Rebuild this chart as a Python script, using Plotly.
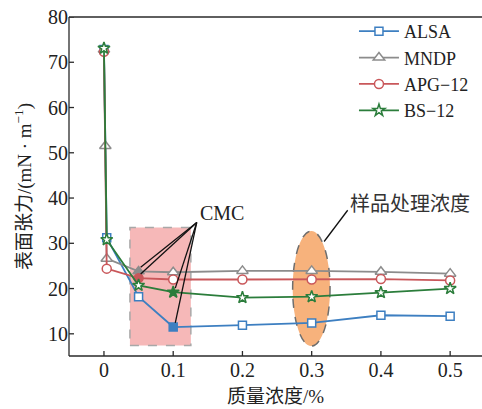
import plotly.graph_objects as go

# ---- data ----
x_main = [0, 0.004, 0.05, 0.1, 0.2, 0.3, 0.4, 0.5]
x_mndp = [0, 0.002, 0.004, 0.05, 0.1, 0.2, 0.3, 0.4, 0.5]
alsa = [72.8, 31.2, 18.2, 11.5, 11.9, 12.4, 14.1, 13.9]
mndp = [72.8, 51.5, 26.6, 23.8, 23.6, 23.9, 23.9, 23.7, 23.3]
apg12 = [72.3, 24.4, 22.3, 22.0, 22.0, 22.0, 22.1, 21.8]
bs12 = [73.1, 30.8, 20.7, 19.2, 18.0, 18.2, 19.1, 20.0]

names = ["ALSA", "MNDP", "APG\u221212", "BS\u221212"]
cmc_x = [0.1, 0.05, 0.05, 0.1]          # CMC point of each series
x_ticks = [0, 0.1, 0.2, 0.3, 0.4, 0.5]
x_tick_labels = ["0", "0.1", "0.2", "0.3", "0.4", "0.5"]
y_ticks = [10, 20, 30, 40, 50, 60, 70, 80]

cmc_region = (0.0375, 0.1255, 7.4, 33.5)      # highlighted CMC box
sample_conc = 0.3                              # sample treatment concentration
sample_region = (7.3, 32.7)

colors = ["#3d7fc1", "#8c8c8c", "#c9575a", "#2b7d3b"]
symbols = ["square", "triangle-up", "circle", "star"]
sizes = [8, 10, 9, 9]

series = [(x_main, alsa), (x_mndp, mndp), (x_main, apg12), (x_main, bs12)]

SERIF = "Liberation Serif, Times New Roman, Noto Sans CJK SC, serif"
MIXED = "Liberation Serif, Noto Sans CJK SC, serif"
AXC = "#2a2a2a"

W, H = 482, 409
ML, MR, MT, MB = 69, 0, 17, 53
TICKLEN = 5

fig = go.Figure()
for (xs, ys), name, c, sym, sz, cx in zip(series, names, colors, symbols, sizes, cmc_x):
    fills = [c if abs(x - cx) < 1e-9 else "white" for x in xs]
    fig.add_trace(go.Scatter(
        x=xs, y=ys, name=name, mode="lines+markers",
        line=dict(color=c, width=1.8),
        marker=dict(symbol=sym, size=sz, color=fills, line=dict(color=c, width=1.5)),
    ))

# CMC shaded box
x0, x1, y0, y1 = cmc_region
fig.add_shape(type="rect", xref="x", yref="y", x0=x0, x1=x1, y0=y0, y1=y1,
              fillcolor="#f6b8b8", line=dict(color="#a8a8a8", width=1.5, dash="dash"),
              layer="below")
# sample concentration ellipse
fig.add_shape(type="circle", xref="x", yref="y",
              x0=sample_conc - 0.0275, x1=sample_conc + 0.0265,
              y0=sample_region[0], y1=sample_region[1],
              fillcolor="#f7b27c", line=dict(color="#6e6e6e", width=1.5, dash="dash"),
              layer="below")

# CMC pointer lines
anchor = (0.134, 34.6)
for (xs, ys), cx in zip(series, cmc_x):
    i = [k for k, x in enumerate(xs) if abs(x - cx) < 1e-9][0]
    ty = ys[i] + 0.9
    fig.add_shape(type="line", xref="x", yref="y", x0=anchor[0], y0=anchor[1],
                  x1=xs[i] + 0.003, y1=ty, line=dict(color="#111111", width=1.3))
fig.add_annotation(x=0.17, y=36.8, xref="x", yref="y", text="CMC", showarrow=False,
                   font=dict(family=SERIF, size=20, color="#222222"))

# sample concentration pointer
fig.add_shape(type="line", xref="x", yref="y", x0=0.352, y0=37.3, x1=0.318, y1=30.4,
              line=dict(color="#111111", width=1.3))
fig.add_annotation(x=0.442, y=39.1, xref="x", yref="y", text="样品处理浓度", showarrow=False,
                   font=dict(family="Noto Sans CJK SC", size=20, color="#333333"))

# axis frame (left, bottom, top) and inside ticks, drawn as shapes
frame = dict(color=AXC, width=1.3)
fig.add_shape(type="line", xref="paper", yref="paper", x0=0, x1=0, y0=0, y1=1, line=frame)
fig.add_shape(type="line", xref="paper", yref="paper", x0=0, x1=1, y0=0, y1=0, line=frame)
fig.add_shape(type="line", xref="paper", yref="paper", x0=0, x1=1, y0=1, y1=1, line=frame)
tx = TICKLEN / (W - ML - MR)
ty_ = TICKLEN / (H - MT - MB)
for xt in x_ticks:
    fig.add_shape(type="line", xref="x", yref="paper", x0=xt, x1=xt, y0=0, y1=ty_, line=frame)
for yt in y_ticks:
    fig.add_shape(type="line", xref="paper", yref="y", x0=0, x1=tx, y0=yt, y1=yt, line=frame)

fig.update_layout(
    width=W, height=H,
    margin=dict(l=ML, r=MR, t=MT, b=MB),
    plot_bgcolor="white", paper_bgcolor="white",
    font=dict(family=SERIF, size=20, color="#222222"),
    showlegend=True,
    legend=dict(x=0.69, y=1.012, xanchor="left", yanchor="top",
                bgcolor="rgba(0,0,0,0)", itemwidth=40, tracegroupgap=0,
                font=dict(family=SERIF, size=18), itemclick=False),
    xaxis=dict(range=[-0.0505, 0.546], tickvals=x_ticks, ticktext=x_tick_labels,
               ticks="", showline=False,
               showgrid=False, zeroline=False, automargin=False,
               title=dict(text="质量浓度/%", standoff=9,
                          font=dict(family=MIXED, size=19))),
    yaxis=dict(range=[5.1, 80], tickvals=y_ticks,
               ticks="", showline=False,
               showgrid=False, zeroline=False, automargin=False,
               title=dict(text="表面张力/(mN · m<sup>−1</sup>)", standoff=11,
                          font=dict(family=MIXED, size=19))),
)

fig.write_html("out.html", config={"displayModeBar": False},
               post_script="document.body.style.margin='0';document.body.style.padding='0';")
